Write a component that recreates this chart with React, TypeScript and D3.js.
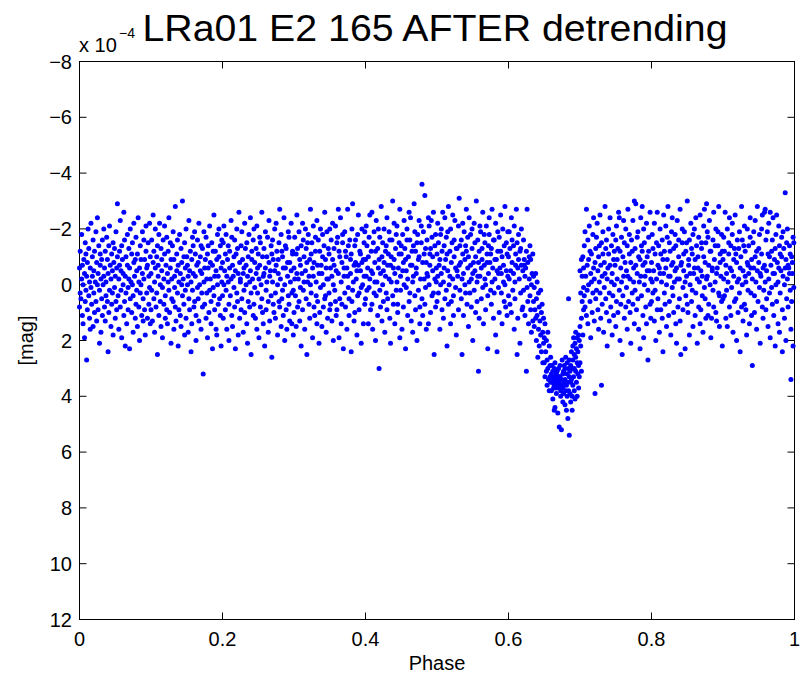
import React from 'react';
import * as d3 from 'd3';

// Phase-folded light curve. Each array covers 0.1 in phase; entry i is the
// phase bin (segmentStart + i/1000) and holds the magnitudes (in units of 0.1 x 10^-4 mag).
const A0 = [
[-6,8],[-12,3],[5],[-18,-2],[11,-7],[0,14],[-9],[-4,19],[-15,6],[2,-11],
[27,-3],[-8,9],[-20],[4,-13],[12,-1],[-6,16],[-22,1],[7],[-10,-3],[15,-16],
[-5,3],[-12,10],[-1],[6,-19],[-8,13],[-24,0],[9,-4],[-14],[2,21],[-7,-11],
[17,-2],[-9,5],[-16,11],[0],[-3,-20],[8,-6],[13,-12],[-1,4],[-17],[6,-9],
[-4,24],[10,-14],[-21,2],[-7],[15,-2],[-11,7],[3,-5],[-15,18],[-8],[1,-13],
[12,-3],[-19,6],[-6,9],[-29,-10],[4],[-2,16],[-12,-7],[8,-23],[-5,2],[19,-14],
[-9],[0,-4],[-26,11],[6,-16],[-3,22],[-10,3],[14],[-7,-18],[1,9],[-13,-2],
[23,-6],[-20,5],[-1],[10,-11],[-15,0],[4,17],[-8,-22],[-3],[12,-9],[-17,7],
[2,-5],[-11,15],[-24],[8,-1],[-6,20],[-14,3],[0,-9],[11],[-19,-4],[5,13],
[-2,-16],[-9,9],[18],[-12,-21],[3,-6],[-7,12],[-15],[7,-3],[-22,1],[14,-10]
];
const A1 = [
[-4,9],[-16,2],[13],[-8,-25],[5,-12],[-1,17],[-20,-6],[8],[-10,3],[25,-14],
[-3,-7],[11,-18],[-22],[0,6],[-13,15],[-5,-9],[19,1],[-16],[7,-2],[-11,-21],
[4,12],[-7],[-17,9],[14,-4],[-1,-12],[-24,2],[10],[-6,-15],[21,-9],[-2,5],
[-14],[6,-19],[-9,16],[1,-3],[-28,8],[13],[-11,-5],[3,-16],[-7,22],[9,-1],
[-18],[-4,11],[15,-13],[-8,0],[-30,4],[-2],[7,-10],[-15,18],[-6,2],[12,-20],
[-10],[0,-7],[17,-3],[-23,5],[-5,9],[-12],[24,-1],[-9,14],[2,-17],[-14,-4],
[8],[-19,6],[-3,-11],[11,20],[-7],[-16,1],[5,-8],[-22,13],[0],[-10,-5],
[16,-14],[-4,3],[-13,8],[32],[-1,-19],[7,-6],[-9],[-17,12],[3,-2],[-11,19],
[-6,-14],[10],[-21,2],[-2,-8],[14,6],[-15],[-7,23],[1,-12],[-25,4],[9,-3],
[-12],[-5,16],[18,-9],[-18,0],[-3,7],[-10,-20],[5],[-14,11],[22,-6],[-1,-16]
];
const A2 = [
[-8,4],[-15,12],[0,-21],[-5],[9,-11],[-18,2],[16,-3],[-9],[-1,-14],[20,7],
[-12,-6],[4],[-23,-2],[11,-17],[-7,15],[-3],[1,-10],[-16,8],[23,-5],[-11],
[-20,3],[6,-13],[-4,18],[-26],[12,-8],[-1,-2],[-14,9],[5,-19],[-9],[17,-4],
[-6,2],[-22,10],[-13],[0,-7],[14,-15],[-3,21],[-10,6],[-18],[8,-1],[-5,-24],
[25,3],[-12,-9],[-2],[-16,11],[7,-20],[-8,1],[12],[-4,-13],[-21,16],[3,-6],
[-11],[19,-2],[-7,-17],[-15,8],[0],[-26,5],[10,-10],[-3,14],[-13,-4],[22],
[-6,-19],[2,9],[-10,-1],[-17],[6,17],[-23,-8],[13,-3],[-5],[-14,4],[26,-11],
[-1,-16],[-9,7],[10],[-20,-5],[3,12],[-7,-22],[-12],[18,0],[-4,-9],[-15,6],
[8,-27],[-2],[-18,15],[5,-12],[-10,2],[11,-6],[-24],[0,20],[-6,-14],[-13,9],
[16],[-3,-8],[-19,4],[7,-17],[-8,13],[-1],[-22,-5],[14,3],[-11,-12],[2,18]
];
const A3 = [
[-6,10],[-17,-2],[4],[-11,15],[-25,-4],[8,-13],[-2],[-19,6],[13,-9],[-7,1],
[-14,22],[-4],[-22,9],[2,-16],[-10,-1],[16],[-5,-20],[-13,5],[25,-8],[-1,-15],
[-18],[7,-3],[-9,12],[-27,0],[3,-11],[-15],[19,-6],[-3,-21],[-8,8],[11],
[-12,-17],[-1,4],[-23,14],[6,-7],[-16],[-4,21],[10,-12],[-20,1],[-7],[15,-4],
[-10,-18],[0,8],[-14],[-26,5],[4,-9],[-6,17],[-19,-2],[12],[-2,-13],[-11,3],
[-20,9],[7,-6],[-16],[-3,13],[-9,-22],[20,0],[-13,-7],[2],[-21,6],[-5,11],
[9,-15],[-17],[-27,-4],[-12,19],[5,-10],[-24],[14,-1],[-8,7],[-15,-18],[23],
[-3,-6],[-19,3],[8,-12],[-10],[-6,16],[-27,-3],[1,-14],[11,5],[-16],[-4,-9],
[-11,24],[6,-20],[-29,2],[-1],[13,-7],[-14,10],[-8,-16],[-2],[18,-5],[-18,4],
[-7,-25],[3,9],[-12],[-5,-11],[21,1],[-20,-8],[0],[-9,14],[-15,-3],[7,-19]
];
const A4 = [
[-9,5],[-21,-3],[2,-14],[-6],[14,-10],[-17,1],[-2,-25],[9],[-12,-5],[-26,7],
[-4,16],[-15],[3,-19],[-8,-1],[20,-12],[-23,4],[-1],[-13,11],[-6,-20],[30,-9],
[-17,2],[8,-4],[-28],[-10,13],[0,-15],[-5,6],[-20,-8],[17],[-3,-12],[-14,3],
[-24,9],[5,-7],[-11],[-19,-2],[12,-16],[-7,21],[-1,-10],[-16],[-30,4],[7,-6],
[-9,-22],[-4,14],[-13],[2,-18],[-21,-1],[10,7],[-6],[-15,-11],[-27,19],[-3,2],
[-11,-14],[16],[-18,-5],[-8,8],[0,-23],[-13],[23,-9],[-5,1],[-20,-16],[-2,11],
[-10],[6,-26],[-16,3],[-24,-7],[13],[-7,-12],[-1,17],[-14,-3],[-29],[4,-19],
[-12,9],[-4,-6],[20,-15],[-18],[-9,2],[-23,-10],[8,14],[-2],[-15,-21],[-36,5],
[11,-8],[-19],[-11,-2],[-32,7],[1,-13],[-8,16],[-16,-4],[-3],[14,-24],[-21,0],
[-7,-11],[-13,10],[-23],[4,-17],[-10,-5],[-26,3],[25],[-2,-14],[-18,8],[-6,-1]
];
const A5 = [
[-11,6],[-22,-3],[3,-15],[-7],[16,-9],[-18,0],[-4,-20],[9,-12],[-26],[-1,12],
[-14,-6],[5,-24],[-9],[-17,2],[22,-11],[-5,-19],[-28,7],[0],[-12,-3],[-20,14],
[6,-8],[-15],[-2,-25],[11,4],[-10,-16],[-23],[-6,1],[18,-13],[-13,-5],[-3],
[-21,9],[-31,-7],[2,-14],[-8],[-16,5],[25,-2],[-11,-22],[-4,11],[-19],[0,-9],
[-14,3],[-27,-12],[7],[-6,-17],[-10,15],[-24,-1],[3],[-18,-7],[-2,8],[-13,-20],
[20,-4],[-8],[-22,2],[-5,-15],[10,-10],[-30],[-1,6],[-16,-3],[31,-8],[-12,12],
[-3,-21],[-19],[5,-6],[-9,-13],[-26,1],[14],[-7,-18],[-15,-2],[0,9],[-21],
[-11,-8],[23,4],[-4,-14],[-18,-24],[-8],[2,-11],[-13,7],[-27,-1],[-6],[12,-16],
[-16,3],[-2,-9],[-22,18],[-9],[24,-5],[-12,-19],[-4,1],[-17,10],[-6],[-25,-12],
[3,-4],[-10,14],[-20],[-1,-7],[-14,6],[-28,0],[8],[-5,-15],[-11,11],[-19,-3]
];
const A6 = [
[-10,4],[-19,-2],[7,-13],[-5],[-24,10],[-8,-16],[2],[-14,-4],[16,-21],[-1,5],
[-11,-7],[-27],[25,-15],[-6,12],[-18,-9],[-2],[21,-12],[-13,3],[-7,-20],[9],
[-5,8],[-16,2],[-7,-9],[11,-3],[-6],[31,-12],[-27,1],[-8,6],[14],[-2,-10],
[4,-14],[-9,9],[17,0],[-4],[-11,13],[6,-3],[15,1],[9],[-4,12],[20,5],
[11,-1],[26],[3,16],[8,22],[13],[2,18],[24,10],[7],[17,28],[12,21],
[19,28],[14,33],[24],[31,20],[27,36],[17,30],[34],[22,38],[29,33],[35,26],
[32,38],[29,35,33],[41,31],[34,37],[36,30,45],[28,44],[33,37,35],[39,32],[31,35],[46,34,36],
[30,37],[35,51,33],[33,29],[38,40,36],[34,52],[27,36],[37,32,42],[31,39],[35,29],[43,34,30],
[26,38],[36,45],[32,40,28],[48,35],[5,30,38],[54,33,27],[39,31],[29,42,35],[34,24],[40,30,45],
[27,36,22],[33,19],[38,25,30],[21,41],[31,26,17],[35,23],[28,40,19],[24,32],[18,37,29],[33,20]
];
const A7 = [
[15,28,-5],[3,22],[-9,12,31],[6,-3],[-10,18],[1,-6,9],[-14,4],[8,-19],[-3],[-27,11],
[-7,2],[-16,14],[0,-9],[-21],[6,-12],[-4,19],[-11,-1],[10],[-18,3],[-6,-24],
[13,-2],[39,-8],[-13,5],[2,-17],[-22],[9,-5],[-10,16],[-1,-14],[-25,3],[12,-7],
[36,-15],[-3,7],[-19,-11],[17],[-8,1],[-28,-4],[5,-13],[-16,10],[22,-2],[-6],
[-11,-20],[3,13],[-24,-7],[8],[-14,-1],[-4,18],[-18,4],[-9,11],[0,-12],[-7],
[15,-16],[-21,6],[-2,-9],[10,-13],[-26],[-24,2],[-12,20],[7,-6],[-17,-1],[25],
[-10,4],[-3,-23],[12,-15],[-8],[-20,8],[1,-5],[-14,16],[-27,-3],[6],[-11,-18],
[-2,10],[21,-8],[-16],[3,-12],[-23,7],[-6,-1],[-30,14],[-13,2],[-29,-7],[9],
[-4,-17],[-19,5],[16,-10],[-1],[-9,23],[-24,-3],[4,-14],[-28,-12],[-7,11],[19,-20],
[-15,0],[-3,-8],[8],[-22,14],[-10,-5],[27,2],[-17,-12],[-5],[-26,7],[12,-2]
];
const A8 = [
[-8,6],[-18,-1],[3,-13],[-5],[13,-22],[-11,2],[20],[-2,-15],[-26,9],[5,-7],
[-14],[-6,17],[-20,-4],[9,-11],[-1],[-16,12],[24,-9],[-4,-25],[-12,3],[7],
[-21,-6],[0,15],[-9,-17],[-28],[11,-3],[-15,6],[-3,-12],[18],[-7,-19],[-24,1],
[4,-8],[-13,10],[-1],[-18,-5],[14,-14],[-6,21],[-23,-2],[8],[-10,-16],[-2,5],
[-27,13],[25,-7],[-8],[-15,-20],[1,9],[-5,-11],[-19],[23,-1],[-12,4],[-3,-15],
[-30,7],[10],[-7,-9],[-16,18],[0,-4],[-22],[6,-13],[-11,2],[15,-18],[-4],
[-20,-6],[-9,11],[3,-24],[-14],[21,-2],[-6,-10],[-17,8],[-1],[-25,14],[9,-5],
[-13,-15],[-3,4],[17],[-10,-21],[-27,1],[5,-8],[-15,12],[-29,-2],[-19,-3],[11,-17],
[-7,7],[-23],[0,-12],[-12,19],[12],[-5,-6],[-16,2],[8,-26],[-9],[-1,-14],
[-20,10],[13,-4],[-6],[-14,-19],[-28,3],[4,15],[-11,-8],[-3],[-18,6],[22,-12]
];
const A9 = [
[-9,5],[-17,-2],[4,-12],[-26],[12,-7],[-4,2],[-20,15],[-1],[-11,-15],[8,-24],
[-6],[-14,11],[1,-5],[-22,-18],[17],[-3,-9],[-13,6],[-25],[5,-11],[-8,20],
[-16,-1],[10],[-2,-13],[-19,3],[24,-6],[-10],[-28,8],[0,-16],[-5,13],[-14],
[7,-21],[-12,-3],[-1,9],[18],[-20,-8],[-7,2],[-4,-14],[14],[-17,-24],[3,-6],
[-9,11],[29,-2],[-15],[-6,-19],[10,4],[-23,-10],[-1],[-12,16],[-28,-5],[6],
[-8,-13],[-18,1],[21,-4],[-3],[-11,-20],[-25,8],[-6,12],[2],[-26,-7],[-27,-1],
[9,-16],[-5,5],[-19],[15,-11],[-2,-22],[-10,3],[-26,19],[-7],[1,-12],[-16,7],
[-24,-4],[11],[-4,-9],[-13,22],[-18,0],[6,-25],[-8],[-1,14],[-21,-6],[17,-14],
[-11,3],[-5],[-17,-10],[24,9],[-3,-19],[-13],[0,12],[-33,-6],[-9,20],[5,-15],
[-20,-2],[-7,8],[-6],[-14,-4],[2,-11],[34,16],[-10,6],[-4,-8],[22,-17],[-15,1]
];
const SEGMENTS = [A0, A1, A2, A3, A4, A5, A6, A7, A8, A9];

const xTicks = [0, 0.2, 0.4, 0.6, 0.8, 1];
const xTickLabels = ['0', '0.2', '0.4', '0.6', '0.8', '1'];
const yTicks = [-8, -6, -4, -2, 0, 2, 4, 6, 8, 10, 12];
const yTickLabels = ['\u22128', '\u22126', '\u22124', '\u22122', '0', '2', '4', '6', '8', '10', '12'];

const TITLE = 'LRa01 E2 165 AFTER detrending';
const XLABEL = 'Phase';
const YLABEL = '[mag]';

const FONT = '"Liberation Sans", Arial, Helvetica, sans-serif';

export default function App() {
  const W = 801;
  const H = 681;
  const left = 79.5, right = 794.5, top = 61.5, bottom = 619.5;
  const x = d3.scaleLinear().domain([0, 1]).range([left, right]);
  const y = d3.scaleLinear().domain([-8, 12]).range([top, bottom]);

  const points: [number, number][] = [];
  SEGMENTS.forEach((seg, s) =>
    seg.forEach((bin, i) =>
      bin.forEach((v) => points.push([(s * 100 + i) / 1000, v / 10]))
    )
  );

  const tickLen = 7;

  return (
    <svg
      width={W}
      height={H}
      style={{ position: 'absolute', left: 0, top: 0, background: '#fff' }}
      fontFamily={FONT}
    >
      <rect x={0} y={0} width={W} height={H} fill="#fff" />
      {/* axes box */}
      <rect x={left} y={top} width={right - left} height={bottom - top} fill="none" stroke="#000" strokeWidth={1} />
      {xTicks.map((t) => (
        <g key={'xt' + t}>
          <line x1={x(t)} x2={x(t)} y1={bottom} y2={bottom - tickLen} stroke="#000" />
          <line x1={x(t)} x2={x(t)} y1={top} y2={top + tickLen} stroke="#000" />
        </g>
      ))}
      {yTicks.map((t) => (
        <g key={'yt' + t}>
          <line x1={left} x2={left + tickLen} y1={y(t)} y2={y(t)} stroke="#000" />
          <line x1={right} x2={right - tickLen} y1={y(t)} y2={y(t)} stroke="#000" />
        </g>
      ))}
      {/* data */}
      <g fill="#0000ff">
        {points.map((p, i) => (
          <circle key={i} cx={x(p[0])} cy={y(p[1])} r={2.5} />
        ))}
      </g>
      {/* tick labels */}
      {xTicks.map((t, i) => (
        <text key={'xl' + t} x={x(t)} y={646} textAnchor="middle" fontSize={20} fill="#000">
          {xTickLabels[i]}
        </text>
      ))}
      {yTicks.map((t, i) => (
        <text key={'yl' + t} x={72} y={y(t) + 7} textAnchor="end" fontSize={20} fill="#000">
          {yTickLabels[i]}
        </text>
      ))}
      {/* exponent */}
      <text x={79} y={52} fontSize={20} fill="#000">x 10</text>
      <text x={119} y={38} fontSize={14} fill="#000">{'\u22124'}</text>
      {/* title */}
      <text x={435} y={41} textAnchor="middle" fontSize={37} fill="#000" textLength={585} lengthAdjust="spacingAndGlyphs">
        {TITLE}
      </text>
      {/* axis labels */}
      <text x={(left + right) / 2} y={670} textAnchor="middle" fontSize={20} fill="#000">
        {XLABEL}
      </text>
      <text
        transform={`translate(33,${(top + bottom) / 2}) rotate(-90)`}
        textAnchor="middle"
        fontSize={20}
        fill="#000"
      >
        {YLABEL}
      </text>
    </svg>
  );
}
